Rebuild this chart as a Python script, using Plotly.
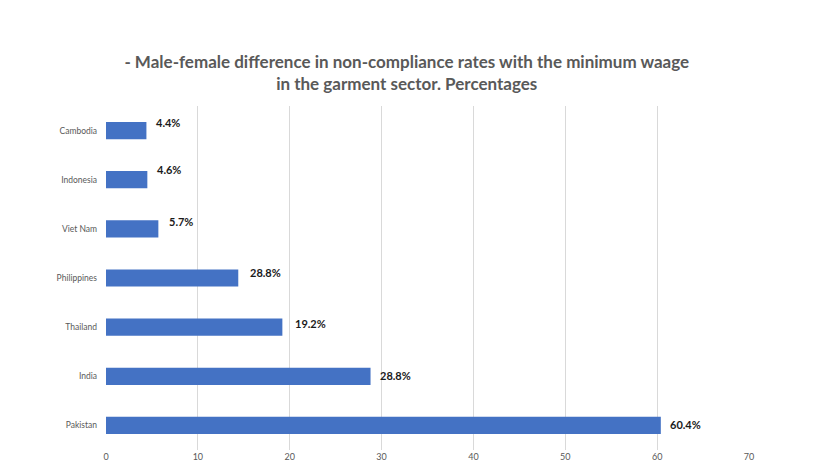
import plotly.graph_objects as go

countries = ["Cambodia", "Indonesia", "Viet Nam", "Philippines", "Thailand", "India", "Pakistan"]
bar_values = [4.4, 4.5, 5.7, 14.4, 19.2, 28.8, 60.4]
label_texts = ["4.4%", "4.6%", "5.7%", "28.8%", "19.2%", "28.8%", "60.4%"]
x_ticks = [0, 10, 20, 30, 40, 50, 60, 70]

title_text = "- Male-female difference in non-compliance rates with the minimum waage<br>in the garment sector. Percentages"

# label offsets (style)
label_yshift = [8, 10, 7, 6, 4, 1, 1]
label_xshift = [8, 8, 9, 10, 11, 7, 7]

fig = go.Figure()
fig.add_trace(go.Bar(
    x=bar_values, y=countries, orientation="h",
    marker=dict(color="#4472C4", line=dict(width=0)),
    width=0.35, hoverinfo="skip",
))

for c, v, t, ys, xs in zip(countries, bar_values, label_texts, label_yshift, label_xshift):
    fig.add_annotation(x=v, y=c, text=t, showarrow=False, xanchor="left", yanchor="middle",
                       xshift=xs, yshift=ys,
                       font=dict(family="Lato", size=11, color="#1a1a1a", weight="bold"))

fig.update_layout(
    width=836, height=471,
    margin=dict(l=98, r=95, t=98, b=29),
    paper_bgcolor="white", plot_bgcolor="white",
    showlegend=False,
    title=dict(text="<b>" + title_text + "</b>", x=0.477, xanchor="center", y=0.872, yanchor="middle",
               font=dict(family="Lato", size=17, color="#595959")),
    xaxis=dict(range=[0, 70], tickvals=x_ticks, showgrid=True, gridcolor="#d9d9d9", gridwidth=1,
               zeroline=False, showline=False, tickfont=dict(family="Lato", size=9, color="#595959"),
               ticks="", fixedrange=True),
    yaxis=dict(categoryorder="array", categoryarray=countries, autorange="reversed",
               showgrid=False, zeroline=False, showline=False, ticks="", ticklabelstandoff=8,
               tickfont=dict(family="Lato", size=8.5, color="#595959"), fixedrange=True),
)

fig.write_html("out.html")
